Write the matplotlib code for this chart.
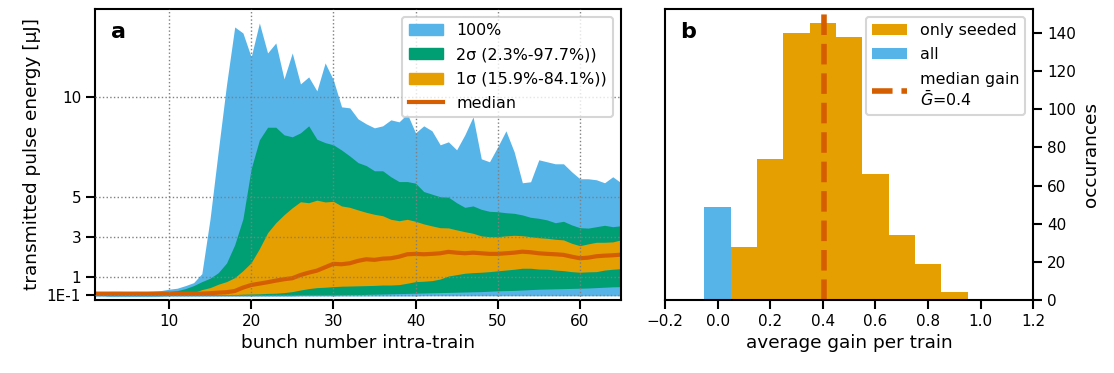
import numpy as np
import matplotlib.pyplot as plt
import matplotlib as mpl
from matplotlib.patches import Patch
from matplotlib.lines import Line2D

# --------------------------------------------------------------
# Data
# --------------------------------------------------------------
bunch = list(range(1, 66))

p_max = [0.25, 0.25, 0.26, 0.26, 0.25, 0.26, 0.25, 0.27, 0.3, 0.37,
         0.42, 0.55, 0.7, 1.15, 3.9, 7.3, 10.6, 13.5, 13.2, 12.0,
         13.7, 12.2, 12.7, 10.9, 12.2, 10.65, 11.0, 10.3, 11.7, 10.85,
         9.5, 9.45, 8.9, 8.65, 8.45, 8.55, 8.85, 8.75, 9.15, 8.2,
         8.55, 8.3, 7.6, 7.75, 7.35, 8.1, 9.0, 6.9, 6.75, 7.5,
         8.3, 7.25, 5.7, 5.75, 6.85, 6.75, 6.65, 6.65, 6.25, 5.9,
         5.9, 5.85, 5.7, 6.0, 5.7]
p977 = [0.2, 0.2, 0.2, 0.2, 0.2, 0.2, 0.2, 0.2, 0.2, 0.25,
        0.3, 0.4, 0.55, 0.75, 0.92, 1.2, 1.68, 2.6, 3.9, 6.4,
        7.85, 8.48, 8.48, 8.1, 8.0, 8.2, 8.55, 7.88, 7.71, 7.6,
        7.34, 7.04, 6.71, 6.56, 6.3, 6.3, 6.0, 5.76, 5.76, 5.68,
        5.26, 5.13, 5.0, 4.98, 4.7, 4.47, 4.54, 4.37, 4.27, 4.25,
        4.2, 4.17, 4.09, 3.97, 3.92, 3.84, 3.7, 3.77, 3.59, 3.45,
        3.43, 3.5, 3.57, 3.5, 3.55]
p841 = [0.15, 0.15, 0.15, 0.15, 0.15, 0.15, 0.15, 0.15, 0.15, 0.15,
        0.15, 0.15, 0.2, 0.35, 0.45, 0.62, 0.75, 0.95, 1.3, 1.7,
        2.4, 3.2, 3.7, 4.1, 4.45, 4.75, 4.7, 4.83, 4.74, 4.77,
        4.54, 4.47, 4.34, 4.22, 4.12, 4.05, 3.87, 3.8, 3.87, 3.77,
        3.64, 3.54, 3.45, 3.44, 3.34, 3.25, 3.17, 3.04, 3.0, 3.0,
        3.04, 3.07, 3.05, 3.0, 2.95, 2.92, 2.87, 2.84, 2.67, 2.55,
        2.64, 2.72, 2.72, 2.74, 2.84]
p_median = [0.15, 0.15, 0.15, 0.15, 0.15, 0.15, 0.15, 0.15, 0.15, 0.15,
            0.15, 0.15, 0.15, 0.15, 0.17, 0.2, 0.22, 0.28, 0.45, 0.58,
            0.65, 0.72, 0.8, 0.87, 0.92, 1.08, 1.2, 1.3, 1.47, 1.64,
            1.62, 1.67, 1.79, 1.87, 1.84, 1.9, 1.92, 2.0, 2.12, 2.14,
            2.12, 2.14, 2.17, 2.24, 2.2, 2.17, 2.2, 2.17, 2.14, 2.14,
            2.17, 2.2, 2.25, 2.22, 2.17, 2.14, 2.12, 2.09, 2.0, 1.92,
            1.95, 2.02, 2.05, 2.07, 2.1]
p159 = [0.1, 0.1, 0.1, 0.1, 0.1, 0.1, 0.1, 0.1, 0.1, 0.1,
        0.1, 0.1, 0.1, 0.1, 0.1, 0.1, 0.1, 0.1, 0.12, 0.13,
        0.14, 0.16, 0.17, 0.2, 0.25, 0.33, 0.4, 0.45, 0.47, 0.5,
        0.52, 0.53, 0.54, 0.55, 0.56, 0.58, 0.58, 0.6, 0.67, 0.75,
        0.77, 0.8, 0.88, 1.03, 1.1, 1.17, 1.2, 1.22, 1.25, 1.29,
        1.33, 1.37, 1.42, 1.42, 1.38, 1.37, 1.33, 1.3, 1.25, 1.22,
        1.24, 1.25, 1.33, 1.37, 1.4]
p023 = [0.07, 0.07, 0.07, 0.07, 0.07, 0.07, 0.07, 0.07, 0.07, 0.07,
        0.07, 0.07, 0.07, 0.07, 0.07, 0.07, 0.07, 0.07, 0.07, 0.07,
        0.07, 0.07, 0.07, 0.07, 0.07, 0.08, 0.08, 0.08, 0.08, 0.08,
        0.09, 0.1, 0.1, 0.11, 0.12, 0.13, 0.14, 0.15, 0.16, 0.17,
        0.18, 0.19, 0.2, 0.21, 0.22, 0.23, 0.24, 0.25, 0.27, 0.29,
        0.3, 0.31, 0.33, 0.35, 0.37, 0.38, 0.39, 0.4, 0.41, 0.42,
        0.43, 0.45, 0.47, 0.49, 0.5]
p_min = [0.02, 0.02, 0.0, 0.0, 0.0, 0.0, 0.0, 0.0, 0.01, 0.02,
         0.02, 0.02, 0.02, 0.02, 0.02, 0.02, 0.02, 0.02, 0.02, 0.02,
         0.02, 0.02, 0.02, 0.02, 0.02, 0.03, 0.03, 0.03, 0.03, 0.03,
         0.03, 0.03, 0.03, 0.03, 0.03, 0.03, 0.03, 0.03, 0.03, 0.03,
         0.04, 0.04, 0.04, 0.04, 0.04, 0.04, 0.04, 0.04, 0.04, 0.04,
         0.04, 0.04, 0.04, 0.04, 0.04, 0.04, 0.04, 0.04, 0.04, 0.04,
         0.04, 0.04, 0.04, 0.04, 0.04]

energy_ticks = [0.1, 1, 3, 5, 10]
energy_ticklabels = ["1E-1", "1", "3", "5", "10"]

gain_bins = [0.0, 0.1, 0.2, 0.3, 0.4, 0.5, 0.6, 0.7, 0.8, 0.9]
counts_all = [49, 28, 74, 140, 145, 138, 66, 34, 19, 4]
counts_seeded = [0, 28, 74, 140, 145, 138, 66, 34, 19, 4]
median_gain = 0.405

# --------------------------------------------------------------
# Plot settings
# --------------------------------------------------------------
mpl.rcParams["font.family"] = ["DejaVu Sans"]
mpl.rcParams["xtick.labelsize"] = 11
mpl.rcParams["ytick.labelsize"] = 11
mpl.rcParams["axes.labelsize"] = 13.3
mpl.rcParams["axes.linewidth"] = 1.5
mpl.rcParams["xtick.major.size"] = 6.5
mpl.rcParams["ytick.major.size"] = 6.5
mpl.rcParams["xtick.major.width"] = 1.5
mpl.rcParams["ytick.major.width"] = 1.5
mpl.rcParams["legend.fontsize"] = 11.4

c_blue = "#56B4E9"
c_green = "#009E73"
c_orange = "#E69F00"
c_red = "#D55E00"

fig = plt.figure(figsize=(11.14, 3.73), dpi=100)
ax1 = fig.add_axes([95 / 1114, 73 / 373, 526 / 1114, 291 / 373])
ax2 = fig.add_axes([665 / 1114, 73 / 373, 368.3 / 1114, 291 / 373])

# --------------------------------------------------------------
# a: pulse energy along the train
# --------------------------------------------------------------
ax1.fill_between(bunch, p_min, p_max, color=c_blue, lw=0)
ax1.fill_between(bunch, p023, p977, color=c_green, lw=0)
ax1.fill_between(bunch, p159, p841, color=c_orange, lw=0)
ax1.plot(bunch, p_median, color=c_red, lw=3)
ax1.set_xlim(1, 65)
ax1.set_ylim(-0.17, 14.4)
ax1.set_xticks([10, 20, 30, 40, 50, 60])
ax1.set_yticks(energy_ticks)
ax1.set_yticklabels(energy_ticklabels)
ax1.grid(True, ls=":", color="gray", lw=1)
ax1.set_axisbelow(False)
ax1.set_xlabel("bunch number intra-train")
ax1.set_ylabel("transmitted pulse energy [μJ]")
ax1.text(0.03, 0.92, "a", transform=ax1.transAxes, fontsize=16,
         fontweight="bold", va="center")
handles = [Patch(color=c_blue), Patch(color=c_green), Patch(color=c_orange),
           Line2D([], [], color=c_red, lw=3)]
labels = ["100%", "2σ (2.3%-97.7%))", "1σ (15.9%-84.1%))", "median"]
leg = ax1.legend(handles, labels, loc="upper right", labelspacing=0.58,
                 handlelength=2.2)
leg.get_frame().set_linewidth(1.5)

# --------------------------------------------------------------
# b: histogram of average gain
# --------------------------------------------------------------
ax2.bar(gain_bins, counts_all, width=0.1, color=c_blue, label="all")
ax2.bar(gain_bins, counts_seeded, width=0.1, color=c_orange, label="only seeded")
ax2.axvline(median_gain, color=c_red, ls="--", lw=4,
            label="median gain\n$\\bar{G}$=0.4")
ax2.set_xlim(-0.2, 1.2)
ax2.set_ylim(0, 152.6)
ax2.set_xticks(np.arange(-0.2, 1.21, 0.2))
ax2.set_yticks(range(0, 141, 20))
ax2.yaxis.tick_right()
ax2.yaxis.set_label_position("right")
ax2.set_xlabel("average gain per train")
ax2.set_ylabel("occurances")
ax2.text(0.04, 0.92, "b", transform=ax2.transAxes, fontsize=16,
         fontweight="bold", va="center")
h, l = ax2.get_legend_handles_labels()
order = [2, 1, 0]
leg2 = ax2.legend([h[i] for i in order], [l[i] for i in order],
                  loc="upper right", labelspacing=0.58, handlelength=2.2)
leg2.get_frame().set_linewidth(1.5)

fig.savefig("out.png", dpi=100)
